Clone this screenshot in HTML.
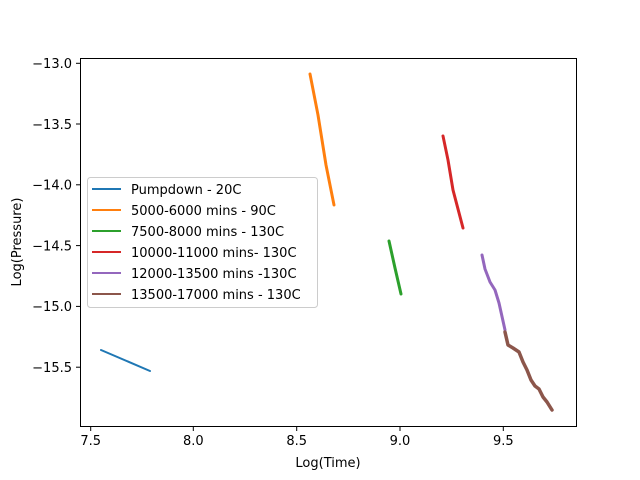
<!DOCTYPE html>
<html><head><style>body{margin:0;background:#fff}svg{display:block}</style></head><body>
<svg width="640" height="480" xmlns="http://www.w3.org/2000/svg" font-family="'DejaVu Sans', 'Liberation Sans', sans-serif" font-size="13">
<rect width="640" height="480" fill="#fff"/>
<g fill="none" stroke-linejoin="round" stroke-linecap="round">
<polyline points="101,350 150,371" stroke="#1f77b4" stroke-width="2"/>
<polyline points="310,74 318,115 326,165 334,205" stroke="#ff7f0e" stroke-width="3"/>
<polyline points="389,241 395,268 401,294" stroke="#2ca02c" stroke-width="3"/>
<polyline points="443,136 448,160 453,190 463,228" stroke="#d62728" stroke-width="3"/>
<polyline points="482,255 485,269 490,282 495,290 499,303 505,330" stroke="#9467bd" stroke-width="3"/>
<polyline points="505,332 508,345 513,348 519,352 523,362 527,370 531,380 535,386 539,389 543,397 547,402 552,410" stroke="#8c564b" stroke-width="3.5"/>
</g>
<rect x="80.5" y="58.5" width="496" height="368" fill="none" stroke="#000" stroke-width="1"/>
<g stroke="#000">
<line x1="90.7" y1="427" x2="90.7" y2="431"/><line x1="193.3" y1="427" x2="193.3" y2="431"/><line x1="296.7" y1="427" x2="296.7" y2="431"/><line x1="400" y1="427" x2="400" y2="431"/><line x1="503.3" y1="427" x2="503.3" y2="431"/>
<line x1="76" y1="63.3" x2="80" y2="63.3"/><line x1="76" y1="124" x2="80" y2="124"/><line x1="76" y1="184.8" x2="80" y2="184.8"/><line x1="76" y1="245.6" x2="80" y2="245.6"/><line x1="76" y1="306.4" x2="80" y2="306.4"/><line x1="76" y1="367.2" x2="80" y2="367.2"/>
</g>
<g text-anchor="middle" fill="#000">
<text x="90.7" y="445">7.5</text><text x="193.3" y="445">8.0</text><text x="296.7" y="445">8.5</text><text x="400" y="445">9.0</text><text x="503.3" y="445">9.5</text>
<text x="328" y="467">Log(Time)</text>
</g>
<g text-anchor="end" fill="#000">
<text x="72" y="68">−13.0</text><text x="72" y="129">−13.5</text><text x="72" y="189.5">−14.0</text><text x="72" y="250.5">−14.5</text><text x="72" y="311">−15.0</text><text x="72" y="372">−15.5</text>
</g>
<text transform="translate(21,242) rotate(-90)" text-anchor="middle">Log(Pressure)</text>
<rect x="87.5" y="177.5" width="230" height="130" rx="3" fill="#fff" fill-opacity="0.8" stroke="#ccc"/>
<g stroke-width="2">
<line x1="92" y1="189" x2="121" y2="189" stroke="#1f77b4"/>
<line x1="92" y1="210" x2="121" y2="210" stroke="#ff7f0e"/>
<line x1="92" y1="231" x2="121" y2="231" stroke="#2ca02c"/>
<line x1="92" y1="252" x2="121" y2="252" stroke="#d62728"/>
<line x1="92" y1="273" x2="121" y2="273" stroke="#9467bd"/>
<line x1="92" y1="294" x2="121" y2="294" stroke="#8c564b"/>
</g>
<g fill="#000">
<text x="131" y="194">Pumpdown - 20C</text>
<text x="131" y="215">5000-6000 mins - 90C</text>
<text x="131" y="236">7500-8000 mins - 130C</text>
<text x="131" y="257">10000-11000 mins- 130C</text>
<text x="131" y="278">12000-13500 mins -130C</text>
<text x="131" y="299">13500-17000 mins - 130C</text>
</g>
</svg>
</body></html>
